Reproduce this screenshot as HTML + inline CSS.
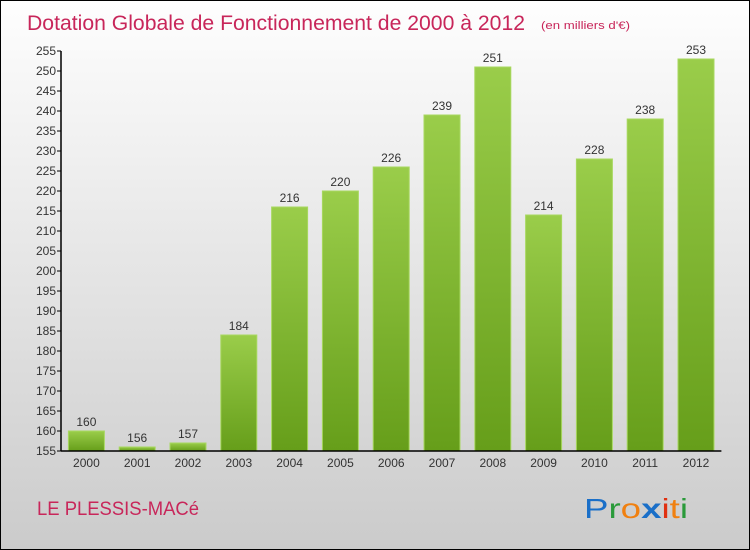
<!DOCTYPE html>
<html><head><meta charset="utf-8"><style>
body{margin:0;}
#wrap{position:relative;width:748px;height:548px;border:1px solid #000;background:linear-gradient(#fefefe,#cbcbcb);overflow:hidden;font-family:"DejaVu Sans","Liberation Sans",sans-serif;}
</style></head><body>
<div id="wrap">
<svg id="svg" width="748" height="548" style="position:absolute;left:0;top:0">
<defs><linearGradient id="bg" x1="0" y1="0" x2="0" y2="1"><stop offset="0" stop-color="#9acd4a"/><stop offset="1" stop-color="#669e1a"/></linearGradient></defs>
<text x="26" y="29" font-size="21" fill="#c8265a" font-family="Liberation Sans, sans-serif" textLength="498" lengthAdjust="spacingAndGlyphs">Dotation Globale de Fonctionnement de 2000 à 2012</text>
<text x="540" y="28" font-size="11" fill="#c8265a" font-family="Liberation Sans, sans-serif" textLength="89" lengthAdjust="spacingAndGlyphs">(en milliers d'€)</text>
<text x="36" y="514" font-size="19" fill="#c8265a" font-family="Liberation Sans, sans-serif" textLength="162" lengthAdjust="spacingAndGlyphs">LE PLESSIS-MACé</text>
<text x="583" y="517" font-size="28" font-family="Liberation Sans, sans-serif" textLength="104" lengthAdjust="spacingAndGlyphs"><tspan fill="#1a6fc8">P</tspan><tspan fill="#2a9a3a">r</tspan><tspan fill="#f08010">o</tspan><tspan fill="#1a6fc8" font-weight="bold">x</tspan><tspan fill="#e03010">i</tspan><tspan fill="#f08010">t</tspan><tspan fill="#2a9a3a">i</tspan></text>
<g id="plot"></g>
</svg>
</div>
<script>
const years=["2000","2001","2002","2003","2004","2005","2006","2007","2008","2009","2010","2011","2012"];
const values=[160,156,157,184,216,220,226,239,251,214,228,238,253];
const yTicks=[155,160,165,170,175,180,185,190,195,200,205,210,215,220,225,230,235,240,245,250,255];
const ns="http://www.w3.org/2000/svg";
const g=document.getElementById('plot');
const x0=60,band=50.8,yMin=155,yMax=255,yTop=50,yBot=450;
const y=v=>yBot-(v-yMin)/(yMax-yMin)*(yBot-yTop);
const xc=i=>x0+band*(i+0.5);
function mk(t,a){const e=document.createElementNS(ns,t);for(const k in a)e.setAttribute(k,a[k]);g.appendChild(e);return e;}
values.forEach((v,i)=>{
 const r=mk('rect',{x:xc(i)-18,y:y(v),width:36,height:yBot-y(v),fill:'url(#bg)',stroke:'#a8d860','stroke-width':1});
 
 
 const t=mk('text',{x:xc(i),y:y(v)-5,'text-anchor':'middle','font-size':12,fill:'#333','font-family':'Liberation Sans, sans-serif'});t.textContent=v;
 
 
 const xl=mk('text',{x:xc(i),y:yBot+16,'text-anchor':'middle','font-size':12,fill:'#333','font-family':'Liberation Sans, sans-serif'});xl.textContent=years[i];
 
 
});
yTicks.forEach(v=>{
 mk('line',{x1:x0-4,x2:x0,y1:y(v),y2:y(v),stroke:'#000'});
 const t=mk('text',{x:x0-5,y:y(v)+4,'text-anchor':'end','font-size':12,fill:'#333','font-family':'Liberation Sans, sans-serif'});t.textContent=v;
 
 
});
const ya=mk('line',{x1:x0,x2:x0,y1:yTop,y2:yBot,stroke:'#000','stroke-width':1.5});


const xa=mk('line',{x1:x0,x2:x0+band*13,y1:yBot,y2:yBot,stroke:'#000','stroke-width':1.5});


</script>
</body></html>
